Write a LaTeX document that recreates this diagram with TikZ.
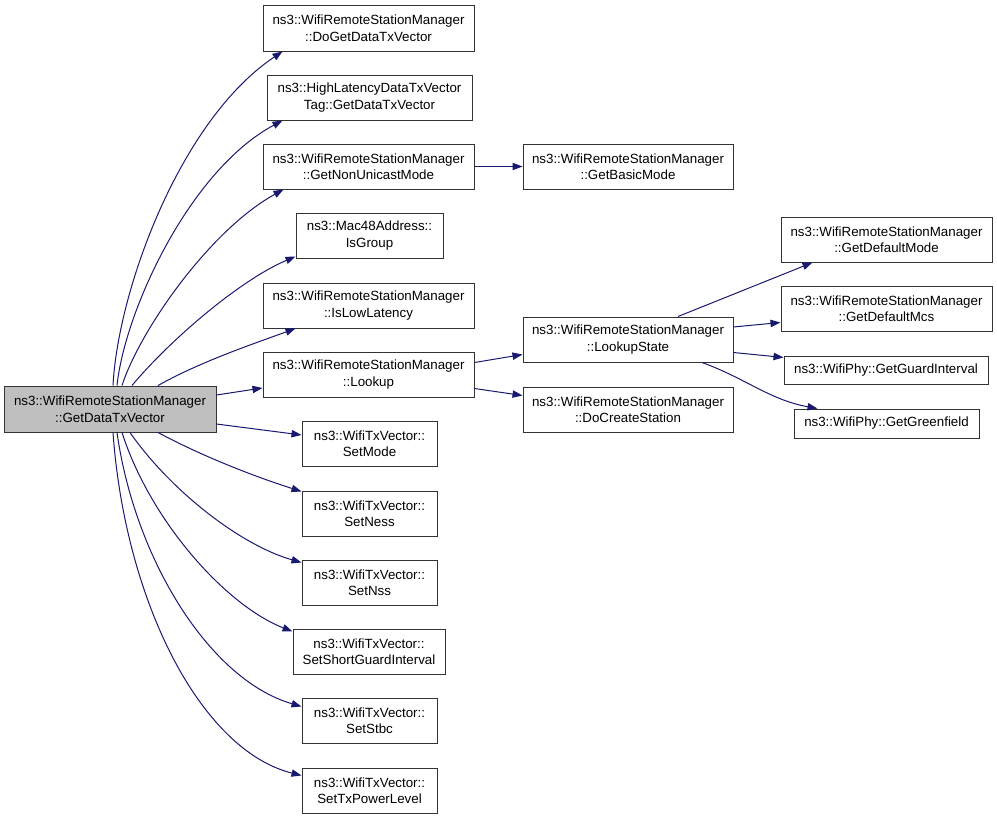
\documentclass[tikz,border=0pt]{standalone}
\usepackage{fontspec}
\setmainfont{Liberation Sans}
\usetikzlibrary{arrows.meta}
\definecolor{edgecol}{HTML}{191970}
\definecolor{maingray}{HTML}{BFBFBF}
\begin{document}
\begin{tikzpicture}[x=0.75pt,y=-0.75pt,
  box/.style={draw=black!80, line width=0.75pt, fill=white, align=center, inner sep=0pt,
    font=\fontsize{10}{12.4}\selectfont, minimum height=33.75pt},
  call/.style={draw=edgecol, line width=0.75pt, -{Triangle[length=7.5pt,width=5.5pt]}, fill=none}]
\useasboundingbox (0,0) rectangle (997,819);
% nodes
\node[box, fill=maingray, minimum width=159pt, minimum height=34.5pt] (main) at (110,409) {ns3::WifiRemoteStationManager\\::GetDataTxVector};
\node[box, minimum width=158.25pt, minimum height=34.5pt] (doget) at (368.5,28) {ns3::WifiRemoteStationManager\\::DoGetDataTxVector};
\node[box, minimum width=153.75pt] (highlat) at (369.5,97.5) {ns3::HighLatencyDataTxVector\\Tag::GetDataTxVector};
\node[box, minimum width=158.25pt] (nonuni) at (368.5,166.5) {ns3::WifiRemoteStationManager\\::GetNonUnicastMode};
\node[box, minimum width=110.25pt] (mac48) at (369.5,235.5) {ns3::Mac48Address::\\IsGroup};
\node[box, minimum width=158.25pt] (islow) at (368.5,305.5) {ns3::WifiRemoteStationManager\\::IsLowLatency};
\node[box, minimum width=158.25pt] (lookup) at (368.5,374.5) {ns3::WifiRemoteStationManager\\::Lookup};
\node[box, minimum width=157.5pt] (basic) at (628,166.5) {ns3::WifiRemoteStationManager\\::GetBasicMode};
\node[box, minimum width=157.5pt] (lstate) at (628,339.5) {ns3::WifiRemoteStationManager\\::LookupState};
\node[box, minimum width=157.5pt] (docreate) at (628,409.5) {ns3::WifiRemoteStationManager\\::DoCreateStation};
\node[box, minimum width=158.25pt] (defmode) at (886.5,239.5) {ns3::WifiRemoteStationManager\\::GetDefaultMode};
\node[box, minimum width=158.25pt] (defmcs) at (886.5,308.5) {ns3::WifiRemoteStationManager\\::GetDefaultMcs};
\node[box, minimum width=153pt, minimum height=21pt] (guard) at (886,370) {ns3::WifiPhy::GetGuardInterval};
\node[box, minimum width=138.75pt, minimum height=21.75pt] (green) at (886.5,423.5) {ns3::WifiPhy::GetGreenfield};
\node[box, minimum width=101.25pt] (setmode) at (369.5,443.5) {ns3::WifiTxVector::\\SetMode};
\node[box, minimum width=101.25pt] (setness) at (369.5,513.5) {ns3::WifiTxVector::\\SetNess};
\node[box, minimum width=101.25pt] (setnss) at (369.5,582.5) {ns3::WifiTxVector::\\SetNss};
\node[box, minimum width=114pt] (setsgi) at (369,651.5) {ns3::WifiTxVector::\\SetShortGuardInterval};
\node[box, minimum width=101.25pt] (setstbc) at (369.5,720.5) {ns3::WifiTxVector::\\SetStbc};
\node[box, minimum width=101.25pt] (settx) at (369.5,790.5) {ns3::WifiTxVector::\\SetTxPowerLevel};
% edges from main, upward
\draw[call] ([xshift=2.25pt]main.north) .. controls (118,290) and (180,120) .. ([xshift=15pt]doget.south west);
\draw[call] ([xshift=5.25pt]main.north) .. controls (125,310) and (190,170) .. ([xshift=12pt]highlat.south west);
\draw[call] ([xshift=9pt]main.north) .. controls (140,330) and (210,230) .. ([xshift=15.75pt]nonuni.south west);
\draw[call] ([xshift=16.5pt]main.north) .. controls (170,340) and (240,280) .. ([yshift=1.5pt]mac48.south west);
\draw[call] ([xshift=36pt]main.north) .. controls (200,362) and (250,345) .. ([xshift=24.75pt]islow.south west);
\draw[call] ([yshift=10.5pt]main.east) -- ([yshift=-10.1pt]lookup.west);
% edges from main, downward
\draw[call] ([yshift=-11.25pt]main.east) -- ([yshift=6.4pt]setmode.west);
\draw[call] ([xshift=36pt]main.south) .. controls (200,455) and (250,475) .. ([yshift=-0.75pt]setness.north west);
\draw[call] ([xshift=15pt]main.south) .. controls (170,490) and (240,545) .. ([yshift=-2.25pt]setnss.north west);
\draw[call] ([xshift=9pt]main.south) .. controls (150,520) and (225,605) .. ([yshift=-2.25pt]setsgi.north west);
\draw[call] ([xshift=5.25pt]main.south) .. controls (135,560) and (210,680) .. ([yshift=-6.75pt]setstbc.north west);
\draw[call] ([xshift=2.25pt]main.south) .. controls (125,600) and (200,750) .. ([yshift=-6pt]settx.north west);
% second level
\draw[call] (nonuni.east) -- (basic.west);
\draw[call] ([yshift=9pt]lookup.east) -- ([yshift=-11.25pt]lstate.west);
\draw[call] ([yshift=-10.5pt]lookup.east) -- ([yshift=10.5pt]docreate.west);
% third level
\draw[call] ([xshift=37.5pt]lstate.north) -- ([xshift=24pt]defmode.south west);
\draw[call] ([yshift=9.4pt]lstate.east) -- ([yshift=-10.5pt]defmcs.west);
\draw[call] ([yshift=-9.75pt]lstate.east) -- ([yshift=9.4pt]guard.west);
\draw[call] ([xshift=55.5pt]lstate.south) .. controls (745,378) and (770,400) .. ([xshift=18pt]green.north west);
\end{tikzpicture}
\end{document}
